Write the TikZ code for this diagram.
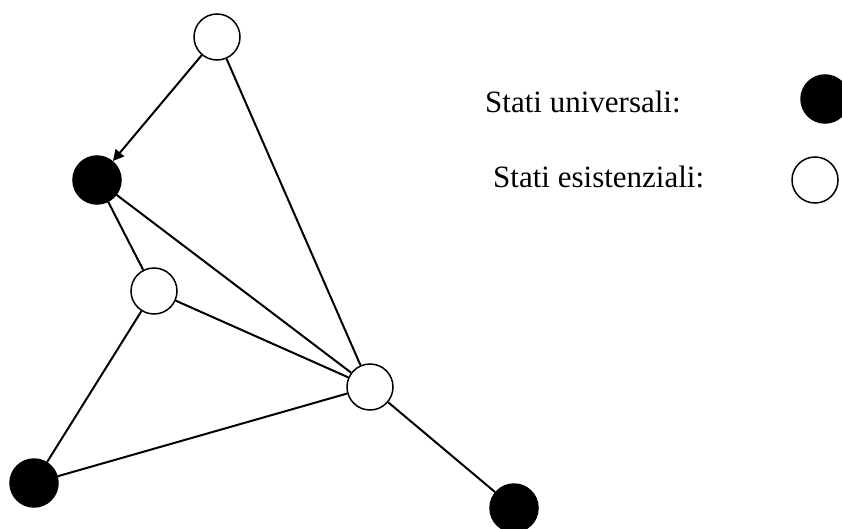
\documentclass[tikz,border=0pt]{standalone}
\usepackage{fontspec}
\setmainfont{Liberation Serif}
\usetikzlibrary{arrows.meta}

\begin{document}
\begin{tikzpicture}[
    x=1pt, y=-1pt,
    univ/.style={
        circle,
        draw=black,
        fill=black,
        line width=1.5pt,
        minimum size=48pt,
        inner sep=0pt
    },
    esist/.style={
        circle,
        draw=black,
        fill=white,
        line width=1.5pt,
        minimum size=46pt,
        inner sep=0pt
    },
    edge/.style={line width=2pt, draw=black},
    arrow/.style={edge, -{Triangle[length=11pt, width=11pt]}},
    legend/.style={font=\fontsize{31}{36}\selectfont, anchor=base west, inner sep=0pt}
]
\useasboundingbox (0,0) rectangle (842,529);
\clip (0,0) rectangle (842,529);

\node[esist] (top) at (217,37) {};
\node[univ] (left) at (97,180) {};
\node[esist] (mid) at (154,291) {};
\node[esist] (hub) at (370,387) {};
\node[univ] (botleft) at (34,483) {};
\node[univ] (botright) at (514,508) {};

\node[legend] (lunivtext) at (485,113) {Stati universali:};
\node[legend] (lesisttext) at (493,188) {Stati esistenziali:};
\node[univ] (lunivdot) at (825,99) {};
\node[esist] (lesistdot) at (815,180) {};

\draw[arrow] (top) -- (left);
\draw[edge] (top) -- (hub);
\draw[edge] (left) -- (mid);
\draw[edge] (left) -- (hub);
\draw[edge] (mid) -- (hub);
\draw[edge] (mid) -- (botleft);
\draw[edge] (botleft) -- (hub);
\draw[edge] (hub) -- (botright);

\end{tikzpicture}
\end{document}
